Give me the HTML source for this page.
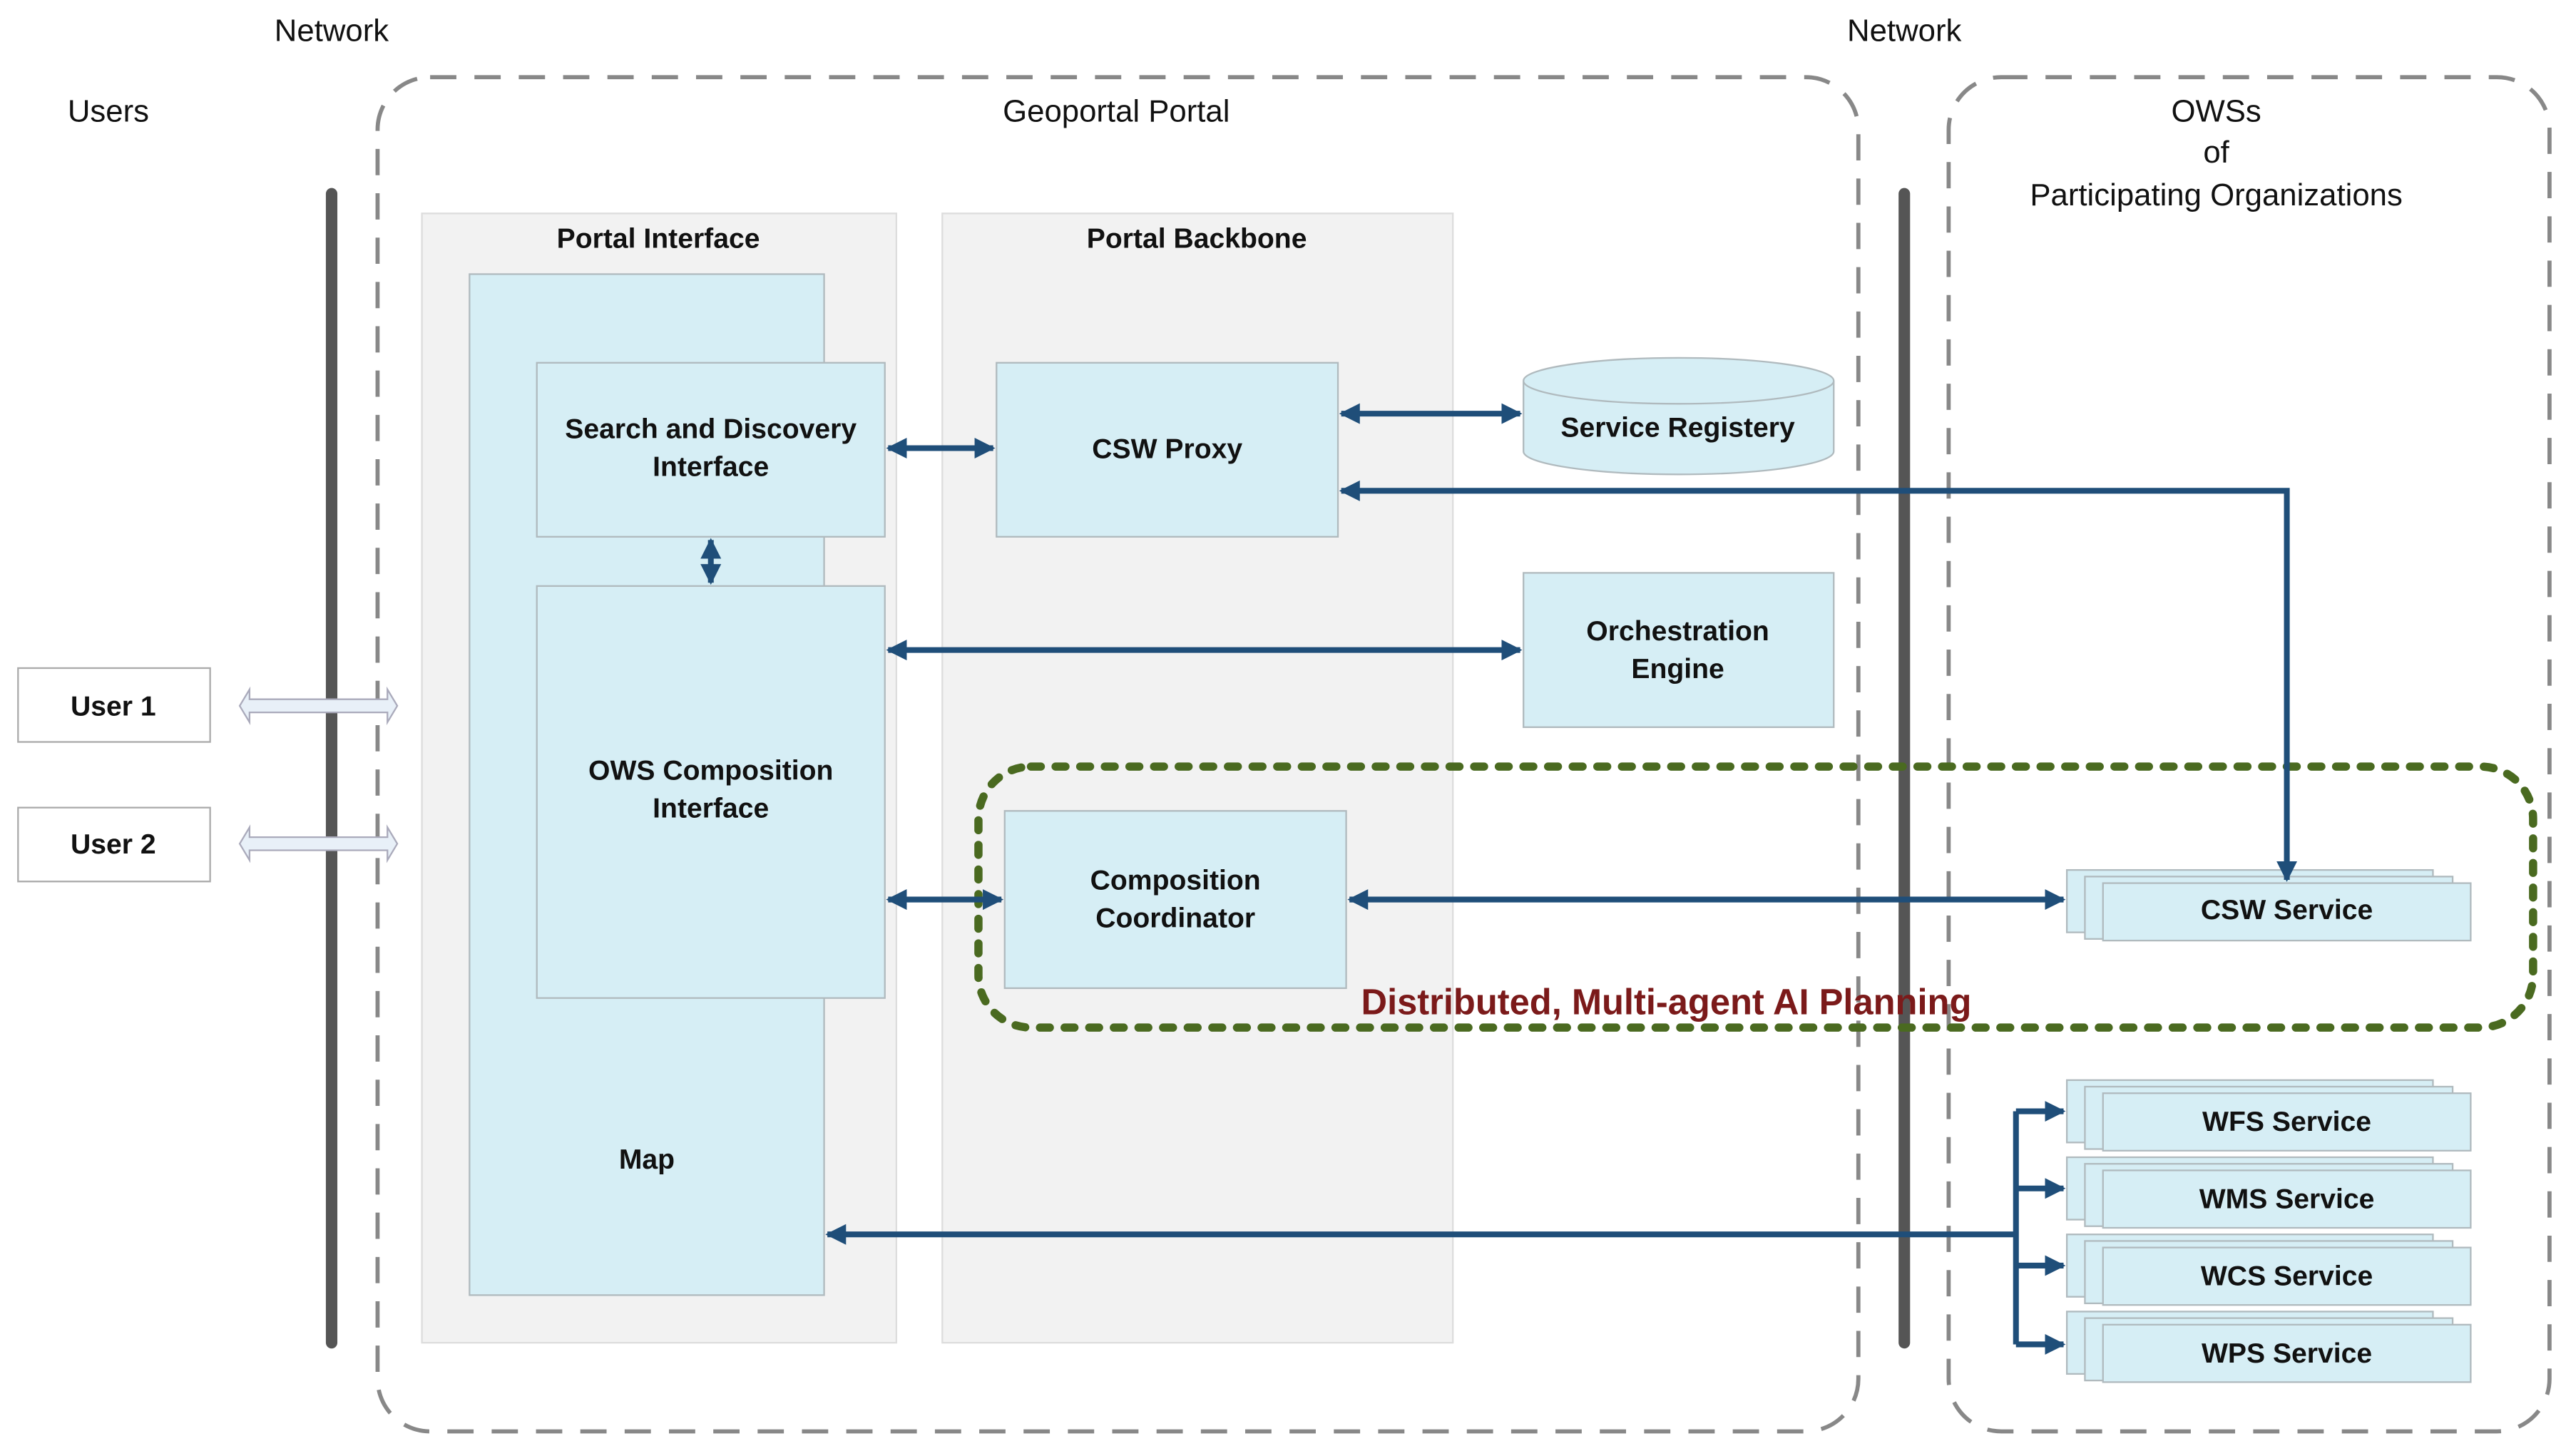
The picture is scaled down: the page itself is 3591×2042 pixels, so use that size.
<!DOCTYPE html>
<html><head><meta charset="utf-8"><style>html,body{margin:0;padding:0;background:#fff}svg{display:block}text{font-family:"Liberation Sans Narrow","Liberation Sans",sans-serif}</style></head>
<body>
<svg width="3591" height="2042" viewBox="0 0 1560 887" preserveAspectRatio="none" xmlns="http://www.w3.org/2000/svg">
<defs>
<marker id="a" viewBox="0 0 10 10" refX="9" refY="5" markerWidth="3.6" markerHeight="4.6" orient="auto-start-reverse"><path d="M0,0L10,5L0,10z" fill="#1f4e79"/></marker>
</defs>
<rect width="1560" height="887" fill="#fff"/>
<g font-size="19" fill="#111" text-anchor="middle">
<text x="202" y="25">Network</text><text x="1160" y="25">Network</text>
<text x="66" y="74">Users</text><text x="680" y="74">Geoportal Portal</text>
<text x="1350" y="74">OWSs</text><text x="1350" y="99">of</text><text x="1350" y="125">Participating Organizations</text>
</g>
<rect x="230" y="47" width="902" height="825" rx="32" fill="none" stroke="#888" stroke-width="2.5" stroke-dasharray="16,11"/>
<rect x="1187" y="47" width="366" height="825" rx="32" fill="none" stroke="#888" stroke-width="2.5" stroke-dasharray="16,11"/>
<line x1="202" y1="118" x2="202" y2="818" stroke="#555" stroke-width="7" stroke-linecap="round"/>
<line x1="1160" y1="118" x2="1160" y2="818" stroke="#555" stroke-width="7" stroke-linecap="round"/>
<rect x="257" y="130" width="289" height="688" fill="#f2f2f2" stroke="#ddd"/>
<rect x="574" y="130" width="311" height="688" fill="#f2f2f2" stroke="#ddd"/>
<g font-size="17" font-weight="bold" fill="#111" text-anchor="middle">
<text x="401" y="151">Portal Interface</text><text x="729" y="151">Portal Backbone</text>
</g>
<g fill="#d6eef5" stroke="#b0babe">
<rect x="286" y="167" width="216" height="622"/>
<rect x="327" y="221" width="212" height="106"/>
<rect x="327" y="357" width="212" height="251"/>
<rect x="607" y="221" width="208" height="106"/>
<rect x="928" y="349" width="189" height="94"/>
<rect x="612" y="494" width="208" height="108"/>
<path d="M928,232 V275 A94.5,14 0 0 0 1117,275 V232"/>
<ellipse cx="1022.5" cy="232" rx="94.5" ry="14"/>
</g>
<g fill="#d6eef5" stroke="#b0babe">
<g id="s"><rect x="1259" y="530" width="223" height="38"/><rect x="1270" y="534" width="224" height="38"/><rect x="1281" y="538" width="224" height="35"/></g>
<use href="#s" y="128"/><use href="#s" y="175"/><use href="#s" y="222"/><use href="#s" y="269"/>
</g>
<rect x="11" y="407" width="117" height="45" fill="#fff" stroke="#aaa"/>
<rect x="11" y="492" width="117" height="45" fill="#fff" stroke="#aaa"/>
<g font-size="17" font-weight="bold" fill="#111" text-anchor="middle">
<text x="394" y="712">Map</text>
<text x="433" y="267">Search and Discovery</text><text x="433" y="290">Interface</text>
<text x="433" y="475">OWS Composition</text><text x="433" y="498">Interface</text>
<text x="711" y="279">CSW Proxy</text>
<text x="1022" y="266">Service Registery</text>
<text x="1022" y="390">Orchestration</text><text x="1022" y="413">Engine</text>
<text x="716" y="542">Composition</text><text x="716" y="565">Coordinator</text>
<text x="1393" y="560">CSW Service</text>
<text x="1393" y="689">WFS Service</text><text x="1393" y="736">WMS Service</text>
<text x="1393" y="783">WCS Service</text><text x="1393" y="830">WPS Service</text>
<text x="69" y="436">User 1</text><text x="69" y="520">User 2</text>
</g>
<g fill="#e8f0f8" stroke="#aab" stroke-width="1">
<path d="M146,430 L152,420 V426 H236 V420 L242,430 L236,440 V434 H152 V440Z"/>
<path d="M146,514 L152,504 V510 H236 V504 L242,514 L236,524 V518 H152 V524Z"/>
</g>
<rect x="596" y="467" width="947" height="159" rx="32" fill="none" stroke="#4a6a20" stroke-width="5" stroke-dasharray="6,9" stroke-linecap="round"/>
<text x="1015" y="618" font-size="22" font-weight="bold" fill="#7b1a1a" text-anchor="middle">Distributed, Multi-agent AI Planning</text>
<g stroke="#1f4e79" stroke-width="3.5" fill="none" marker-end="url(#a)" marker-start="url(#a)">
<line x1="541" y1="273" x2="605" y2="273"/>
<line x1="433" y1="329" x2="433" y2="355"/>
<line x1="817" y1="252" x2="926" y2="252"/>
<line x1="541" y1="396" x2="926" y2="396"/>
<line x1="541" y1="548" x2="610" y2="548"/>
<line x1="822" y1="548" x2="1257" y2="548"/>
</g>
<g stroke="#1f4e79" stroke-width="3.5" fill="none">
<path d="M817,299 H1393 V536" marker-start="url(#a)" marker-end="url(#a)"/>
<path d="M1228,752 H504" marker-end="url(#a)"/>
<path d="M1228,677 V819"/>
<path d="M1228,677 H1257" marker-end="url(#a)"/>
<path d="M1228,724 H1257" marker-end="url(#a)"/>
<path d="M1228,771 H1257" marker-end="url(#a)"/>
<path d="M1228,819 H1257" marker-end="url(#a)"/>
</g>
</svg>
</body></html>
